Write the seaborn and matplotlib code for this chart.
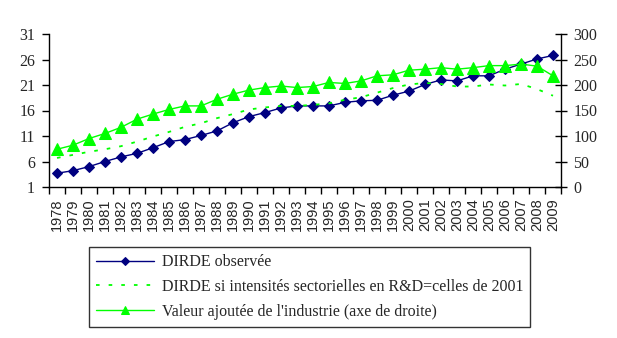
import matplotlib
matplotlib.use("Agg")
import matplotlib.pyplot as plt
from matplotlib.ticker import FixedLocator, NullFormatter
import numpy as np
import pandas as pd
import seaborn as sns

years = list(range(1978, 2010))

# DIRDE observée (axe de gauche)
dirde_observee = [3.7, 4.2, 5.0, 6.0, 6.9, 7.6, 8.7, 9.9, 10.3, 11.1, 12.0, 13.6,
                  14.8, 15.6, 16.5, 16.9, 16.9, 16.9, 17.6, 17.9, 18.0, 19.0, 19.8, 21.1,
                  22.0, 21.8, 22.8, 22.8, 24.1, 25.1, 26.1, 26.8]

# DIRDE à intensités sectorielles de 2001 (axe de gauche)
dirde_intens_2001 = [6.7, 7.3, 7.9, 8.4, 9.0, 9.9, 10.9, 11.8, 12.8, 13.5, 14.5, 15.3,
                     16.2, 16.6, 16.9, 16.9, 17.1, 17.4, 18.1, 18.6, 19.5, 20.4, 21.1, 21.4,
                     21.2, 20.7, 20.7, 21.1, 20.9, 21.2, 20.2, 18.9]

# Valeur ajoutée de l'industrie (axe de droite)
valeur_ajoutee = [74, 82, 95, 105, 117, 133, 143, 152, 159, 159, 172, 182,
                  190, 195, 198, 195, 197, 205, 203, 208, 218, 220, 229, 231,
                  234, 231, 234, 238, 238, 241, 237, 218]

left_ticks = [1, 6, 11, 16, 21, 26, 31]
right_ticks = [0, 50, 100, 150, 200, 250, 300]

labels = ["DIRDE observée",
          "DIRDE si intensités sectorielles en R&D=celles de 2001",
          "Valeur ajoutée de l'industrie (axe de droite)"]

df = pd.DataFrame({"pos": np.arange(len(years)),
                   "obs": dirde_observee,
                   "int": dirde_intens_2001,
                   "va": valeur_ajoutee})

sns.set_style("white")
plt.rcParams["font.family"] = ["Liberation Serif", "DejaVu Serif"]

navy = "#000080"
lime = "#00FF00"

fig = plt.figure(figsize=(6.17, 3.38), dpi=100)
ax = fig.add_axes([49 / 617, 1 - 187 / 338, (561 - 49) / 617, (187 - 34) / 338])
ax2 = ax.twinx()

sns.lineplot(data=df, x="pos", y="obs", ax=ax, color=navy, lw=1,
             marker="D", markersize=5.5, markeredgecolor=navy, label=labels[0], legend=False)
sns.lineplot(data=df, x="pos", y="int", ax=ax, color=lime, lw=1.3,
             linestyle=(0, (2, 5)), label=labels[1], legend=False)
sns.lineplot(data=df, x="pos", y="va", ax=ax2, color=lime, lw=1,
             marker="^", markersize=8, markeredgecolor=lime, label=labels[2], legend=False)

ax.set_xlim(-0.5, len(years) - 0.5)
ax.set_ylim(1, 31)
ax2.set_ylim(0, 300)
ax.set_yticks(left_ticks)
ax2.set_yticks(right_ticks)
ax.set_xticks(np.arange(len(years)))
ax.set_xticklabels([str(y) for y in years], rotation=90, fontsize=10.5,
                   family=["Liberation Sans", "DejaVu Sans"])
ax.tick_params(axis="x", length=0, pad=8)
ax.xaxis.set_minor_locator(FixedLocator(np.arange(len(years) + 1) - 0.5))
ax.xaxis.set_minor_formatter(NullFormatter())
ax.tick_params(axis="x", which="minor", bottom=True, length=5, direction="out", width=1, color="black")
ax.tick_params(axis="y", left=True, length=5, direction="out", width=1, labelsize=11.5, color="black", pad=5)
ax2.tick_params(axis="y", right=True, length=8, direction="inout", width=1, labelsize=11.5, color="black", pad=5)

for a in (ax, ax2):
    a.set_xlabel("")
    a.set_ylabel("")
    a.grid(False)
    a.spines["top"].set_visible(False)
    for s in ("left", "right", "bottom"):
        a.spines[s].set_color("black")
        a.spines[s].set_linewidth(1)
ax.spines["right"].set_visible(False)
ax2.spines["left"].set_visible(False)
ax2.spines["bottom"].set_visible(False)

h1, l1 = ax.get_legend_handles_labels()
h2, l2 = ax2.get_legend_handles_labels()
leg = fig.legend(h1 + h2, l1 + l2, loc="lower left",
                 bbox_to_anchor=(89 / 617, 11 / 338), frameon=True, fancybox=False,
                 edgecolor="black", fontsize=11.5, handlelength=3.6, borderpad=0.45,
                 labelspacing=0.55, handletextpad=0.5, borderaxespad=0, markerscale=0.75)
leg.get_frame().set_linewidth(1)

fig.savefig("out.png", dpi=100)
